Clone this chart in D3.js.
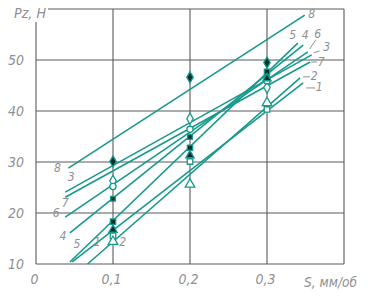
<!DOCTYPE html>
<html><head><meta charset="utf-8">
<script src="https://cdn.jsdelivr.net/npm/d3@7"></script>
<style>
html,body{margin:0;padding:0;background:#fff;}
svg text{font-family:"DejaVu Sans Condensed","DejaVu Sans",sans-serif;font-style:italic;fill:#909090;}
</style></head>
<body><svg id="c" width="368" height="300"></svg>
<script>
// ---- data ----
const xTickValues = [0, 0.1, 0.2, 0.3];
const xTickLabels = ["0", "0,1", "0,2", "0,3"];
const yTickValues = [10, 20, 30, 40, 50];
const yTickLabels = ["10", "20", "30", "40", "50"];
const xAxisTitle = "S, мм/об";
const yAxisTitle = "Pz, H";

// regression lines 1..8 (start/end in data units)
const lineIds = ["8", "3", "7", "6", "4", "5", "1", "2"];
const lineX0 = [0.042, 0.038, 0.038, 0.038, 0.044, 0.044, 0.047, 0.067];
const lineY0 = [28.8, 24.1, 23.1, 19.2, 16.1, 10.4, 10.4, 10.0];
const lineX1 = [0.349, 0.358, 0.356, 0.353, 0.347, 0.340, 0.347, 0.343];
const lineY1 = [58.8, 51.0, 49.6, 51.6, 52.9, 53.3, 45.5, 46.5];

// experimental points
const feedRates = [0.1, 0.2, 0.3];
const pzFilledDiamond = [30.1, 46.6, 49.5];
const pzOpenDiamond = [26.3, 38.5, 44.6];
const pzOpenCircle = [25.2, 36.4, 45.9];
const pzFilledCircle = [22.8, 34.9, 46.8];
const pzFilledSquare = [18.3, 32.8, 47.7];
const pzFilledTriangle = [16.7, 31.3, 46.4];
const pzOpenSquare = [15.5, 30.1, 40.3];
const pzOpenTriangle = [14.4, 25.6, 41.6];

// ---- layout / style ----
const teal = "#169a8c";
const gridColor = "#5a5a5a";
const svg = d3.select("#c");
const x = d3.scaleLinear().domain([0, 0.4]).range([36, 344]);
const y = d3.scaleLinear().domain([10, 60]).range([264, 9]);

// label offsets (px) relative to line start / end
const startLabelOff = {"8":[-11,0],"3":[6,-15],"7":[0,6],"6":[-9,-4],"4":[-7,4],"5":[7,-17],"1":[25,-19],"2":[35,-22]};
const endLabelOff = {"8":[7,-1],"5":[-5,-8],"4":[2,-10],"6":[10,-17],"3":[15,-7],"7":[11,0],"2":[14,-1],"1":[16,5]};
const endLeader = {"6":[[2,-3],[8,-12]],"3":[[2,-2],[8,-4]],"7":[[1,0],[7,0]],"2":[[3,-1],[10,-1]],"1":[[3,5],[12,5]]};

// grid
const g = svg.append("g");
const [x0, x1] = x.range(), [yb, yt] = y.range();
[0.1, 0.2, 0.3, 0.4].forEach(v => g.append("line").attr("x1", x(v)).attr("x2", x(v)).attr("y1", yb).attr("y2", yt));
[20, 30, 40, 50, 60].forEach(v => g.append("line").attr("x1", x0).attr("x2", x1).attr("y1", y(v)).attr("y2", y(v)));
g.append("line").attr("x1", x0).attr("x2", x0).attr("y1", yb).attr("y2", yt);
g.append("line").attr("x1", x0).attr("x2", x1).attr("y1", yb).attr("y2", yb);
g.selectAll("line").attr("stroke", gridColor).attr("stroke-width", 1.1);

// axes via d3 axis (labels only)
const xAxis = d3.axisBottom(x).tickValues(xTickValues).tickFormat((d, i) => xTickLabels[i]).tickSize(0).tickPadding(10);
const gx = svg.append("g").attr("transform", `translate(-2,${yb})`).call(xAxis);
gx.select(".domain").remove();
gx.selectAll("text").attr("font-size", 14).attr("fill", "#909090").style("font-family", null);
const yAxis = d3.axisLeft(y).tickValues(yTickValues).tickFormat((d, i) => yTickLabels[i]).tickSize(0).tickPadding(12);
const gy = svg.append("g").attr("transform", `translate(${x0},0)`).call(yAxis);
gy.select(".domain").remove();
gy.selectAll("text").attr("font-size", 14).attr("fill", "#909090").style("font-family", null);

// titles
svg.append("rect").attr("x", 10).attr("y", 0).attr("width", 38).attr("height", 22).attr("fill", "#fff");
svg.append("text").attr("x", 14).attr("y", 18).attr("font-size", 14)
  .attr("textLength", 32).attr("lengthAdjust", "spacingAndGlyphs").text(yAxisTitle);
svg.append("text").attr("x", 304).attr("y", 287).attr("font-size", 14)
  .attr("textLength", 53).attr("lengthAdjust", "spacingAndGlyphs").text(xAxisTitle);

// lines
lineIds.forEach((id, i) => {
  const sx = x(lineX0[i]), sy = y(lineY0[i]), ex = x(lineX1[i]), ey = y(lineY1[i]);
  svg.append("line").attr("x1", sx).attr("y1", sy).attr("x2", ex).attr("y2", ey)
    .attr("stroke", teal).attr("stroke-width", 1.6);
  const so = startLabelOff[id], eo = endLabelOff[id];
  svg.append("text").attr("x", sx + so[0]).attr("y", sy + so[1]).attr("font-size", 12)
    .attr("text-anchor", "middle").attr("dominant-baseline", "middle").text(id);
  svg.append("text").attr("x", ex + eo[0]).attr("y", ey + eo[1]).attr("font-size", 12)
    .attr("text-anchor", "middle").attr("dominant-baseline", "middle").text(id);
  if (endLeader[id]) {
    const l = endLeader[id];
    svg.append("line").attr("x1", ex + l[0][0]).attr("y1", ey + l[0][1]).attr("x2", ex + l[1][0]).attr("y2", ey + l[1][1])
      .attr("stroke", "#909090").attr("stroke-width", 1);
  }
});

// markers
const markerSeries = [
  {vals: pzFilledDiamond, sym: d3.symbolDiamond, filled: true, size: 36},
  {vals: pzOpenDiamond, sym: d3.symbolDiamond, filled: false, size: 36},
  {vals: pzOpenCircle, sym: d3.symbolCircle, filled: false, size: 30},
  {vals: pzFilledCircle, sym: d3.symbolSquare, filled: true, size: 22},
  {vals: pzFilledSquare, sym: d3.symbolSquare, filled: true, size: 28},
  {vals: pzFilledTriangle, sym: d3.symbolTriangle, filled: true, size: 30},
  {vals: pzOpenSquare, sym: d3.symbolSquare, filled: false, size: 30},
  {vals: pzOpenTriangle, sym: d3.symbolTriangle, filled: false, size: 40}
];
markerSeries.forEach(s => {
  svg.append("g").selectAll("path").data(s.vals).join("path")
    .attr("transform", (d, i) => `translate(${x(feedRates[i])},${y(d)})`)
    .attr("d", d3.symbol().type(s.sym).size(s.size))
    .attr("fill", s.filled ? "#0d2f2b" : "#fff")
    .attr("stroke", teal).attr("stroke-width", 1.3);
});
</script></body></html>
